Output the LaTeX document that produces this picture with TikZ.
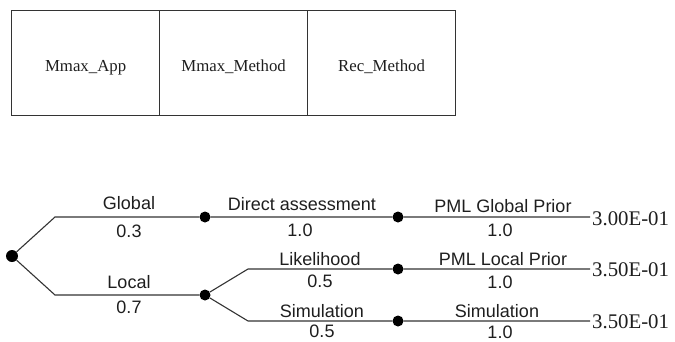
\documentclass[tikz,border=0pt]{standalone}
\usepackage{fontspec}
\setmainfont{Liberation Serif}
\newfontfamily\arialf{Liberation Sans}
\definecolor{ink}{HTML}{1E1E1E}
\definecolor{rule}{HTML}{333333}
\tikzset{
  cell/.style={draw=rule, line width=1.2pt, minimum width=148pt, minimum height=105pt, inner sep=0pt, anchor=north west, text=ink, font=\fontsize{16.8}{18}\selectfont},
  dot/.style={circle, fill=black, inner sep=0pt, minimum size=11pt},
  br/.style={draw=rule, line width=1.1pt},
  lab/.style={anchor=base, inner sep=0pt, text=ink, font=\arialf\fontsize{18}{20}\selectfont},
  val/.style={anchor=base west, inner sep=0pt, text=ink, font=\fontsize{20.8}{22}\selectfont},
}
\newcommand{\celltext}[1]{\smash{\raisebox{-8.5pt}{#1}}}
\begin{document}
\begin{tikzpicture}[x=1pt,y=-1pt]
\useasboundingbox (0,0) rectangle (675,341);
% table
\node[cell] (c1) at (11,10) {\celltext{Mmax\_App}};
\node[cell] (c2) at (159,10) {\celltext{Mmax\_Method}};
\node[cell] (c3) at (307,10) {\celltext{Rec\_Method}};
% tree nodes
\node[dot, minimum size=12pt] (n0) at (12,256) {};
\node[dot] (nG) at (205,217) {};
\node[dot] (nL) at (205,295) {};
\node[dot] (nGG) at (398,217) {};
\node[dot] (nLL) at (398,269) {};
\node[dot] (nLS) at (398,321) {};
\coordinate (bG) at (55,217);
\coordinate (bL) at (55,295);
\coordinate (bLL) at (248,269);
\coordinate (bLS) at (248,321);
\coordinate (eG) at (590,217);
\coordinate (eLL) at (590,269);
\coordinate (eLS) at (590,321);
% branches
\draw[br] (n0) -- (bG) -- (nG) -- (nGG) -- (eG);
\draw[br] (n0) -- (bL) -- (nL);
\draw[br] (nL) -- (bLL) -- (nLL) -- (eLL);
\draw[br] (nL) -- (bLS) -- (nLS) -- (eLS);
% labels
\node[lab] (tG) at (129,209) {Global};
\node[lab] (pG) at (129,237) {0.3};
\node[lab] (tL) at (129,288) {Local};
\node[lab] (pL) at (129,313) {0.7};
\node[lab] (tDA) at (302,210) {Direct assessment};
\node[lab] (pDA) at (300,236) {1.0};
\node[lab] (tLi) at (320,265) {Likelihood};
\node[lab] (pLi) at (320,287) {0.5};
\node[lab] (tSi) at (322,317) {Simulation};
\node[lab] (pSi) at (322,337) {0.5};
\node[lab] (tPG) at (503,212) {PML Global Prior};
\node[lab] (pPG) at (500,236) {1.0};
\node[lab] (tPL) at (503,265) {PML Local Prior};
\node[lab] (pPL) at (500,288) {1.0};
\node[lab] (tPS) at (497,317) {Simulation};
\node[lab] (pPS) at (500,338) {1.0};
% values
\node[val] (vG) at (592,225) {3.00E-01};
\node[val] (vLL) at (592,276) {3.50E-01};
\node[val] (vLS) at (592,328) {3.50E-01};
\end{tikzpicture}
\end{document}
